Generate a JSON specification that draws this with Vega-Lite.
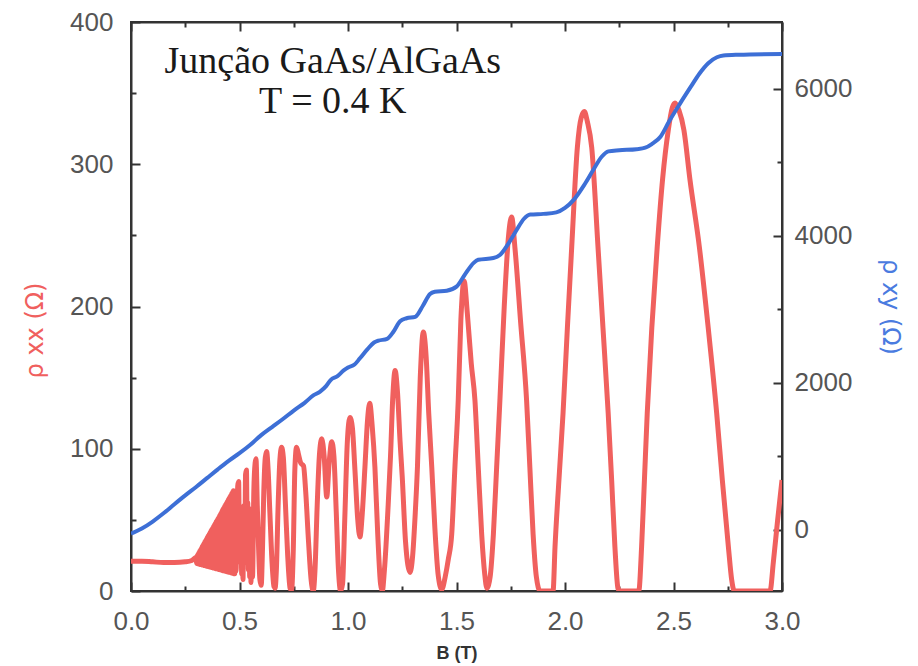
{
  "$schema": "https://vega.github.io/schema/vega-lite/v6.json",
  "width": 651,
  "height": 569,
  "autosize": {"type": "none"},
  "padding": {"left": 131, "top": 22, "right": 136, "bottom": 75},
  "background": "white",
  "config": {
    "view": {"stroke": "#333333", "strokeWidth": 2},
    "axis": {
      "grid": false,
      "domainColor": "#333333",
      "domainWidth": 2,
      "tickColor": "#333333",
      "tickWidth": 2,
      "labelFont": "Liberation Sans",
      "labelFontSize": 26,
      "labelColor": "#555555",
      "titleFont": "Liberation Sans"
    }
  },
  "datasets": {
    "rxx": [
      {"B": 0.0, "rxx": 21}, {"B": 0.05, "rxx": 21}, {"B": 0.1, "rxx": 20.5}, {"B": 0.15, "rxx": 20}, {"B": 0.2, "rxx": 20}, {"B": 0.25, "rxx": 20.5}, {"B": 0.28, "rxx": 21.5},
      {"B": 0.300, "rxx": 23.5}, {"B": 0.302, "rxx": 19.4}, {"B": 0.304, "rxx": 24.6}, {"B": 0.306, "rxx": 19.2}, {"B": 0.308, "rxx": 25.7}, {"B": 0.310, "rxx": 19.1}, {"B": 0.312, "rxx": 26.8}, {"B": 0.314, "rxx": 18.9}, {"B": 0.316, "rxx": 27.9}, {"B": 0.318, "rxx": 18.7},
      {"B": 0.320, "rxx": 29.0}, {"B": 0.322, "rxx": 18.6}, {"B": 0.324, "rxx": 30.1}, {"B": 0.326, "rxx": 18.4}, {"B": 0.328, "rxx": 31.1}, {"B": 0.330, "rxx": 18.2}, {"B": 0.332, "rxx": 32.2}, {"B": 0.334, "rxx": 18.1}, {"B": 0.336, "rxx": 33.3}, {"B": 0.338, "rxx": 17.9},
      {"B": 0.340, "rxx": 34.4}, {"B": 0.342, "rxx": 17.7}, {"B": 0.344, "rxx": 35.5}, {"B": 0.346, "rxx": 17.6}, {"B": 0.348, "rxx": 36.6}, {"B": 0.350, "rxx": 17.4}, {"B": 0.352, "rxx": 37.7}, {"B": 0.354, "rxx": 17.2}, {"B": 0.356, "rxx": 38.8}, {"B": 0.358, "rxx": 17.1},
      {"B": 0.360, "rxx": 39.9}, {"B": 0.362, "rxx": 16.9}, {"B": 0.364, "rxx": 41.0}, {"B": 0.366, "rxx": 16.7}, {"B": 0.368, "rxx": 42.1}, {"B": 0.370, "rxx": 16.6}, {"B": 0.372, "rxx": 43.2}, {"B": 0.374, "rxx": 16.4}, {"B": 0.376, "rxx": 44.2}, {"B": 0.378, "rxx": 16.2},
      {"B": 0.380, "rxx": 45.3}, {"B": 0.382, "rxx": 16.1}, {"B": 0.384, "rxx": 46.4}, {"B": 0.386, "rxx": 15.9}, {"B": 0.388, "rxx": 47.5}, {"B": 0.390, "rxx": 15.7}, {"B": 0.392, "rxx": 48.6}, {"B": 0.394, "rxx": 15.6}, {"B": 0.396, "rxx": 49.7}, {"B": 0.398, "rxx": 15.4},
      {"B": 0.400, "rxx": 50.8}, {"B": 0.402, "rxx": 15.2}, {"B": 0.404, "rxx": 51.9}, {"B": 0.406, "rxx": 15.1}, {"B": 0.408, "rxx": 53.0}, {"B": 0.410, "rxx": 14.9}, {"B": 0.412, "rxx": 54.1}, {"B": 0.414, "rxx": 14.7}, {"B": 0.416, "rxx": 55.2}, {"B": 0.418, "rxx": 14.6},
      {"B": 0.420, "rxx": 56.3}, {"B": 0.422, "rxx": 14.4}, {"B": 0.424, "rxx": 57.4}, {"B": 0.426, "rxx": 14.2}, {"B": 0.428, "rxx": 58.4}, {"B": 0.430, "rxx": 14.1}, {"B": 0.432, "rxx": 59.5}, {"B": 0.434, "rxx": 13.9}, {"B": 0.436, "rxx": 60.6}, {"B": 0.438, "rxx": 13.7},
      {"B": 0.440, "rxx": 61.7}, {"B": 0.442, "rxx": 13.6}, {"B": 0.444, "rxx": 62.8}, {"B": 0.446, "rxx": 13.4}, {"B": 0.448, "rxx": 63.9}, {"B": 0.450, "rxx": 13.2}, {"B": 0.452, "rxx": 65.0}, {"B": 0.454, "rxx": 13.1}, {"B": 0.456, "rxx": 66.1}, {"B": 0.458, "rxx": 12.9},
      {"B": 0.460, "rxx": 67.2}, {"B": 0.462, "rxx": 12.7}, {"B": 0.464, "rxx": 68.3}, {"B": 0.466, "rxx": 12.6}, {"B": 0.468, "rxx": 69.4}, {"B": 0.470, "rxx": 12.4}, {"B": 0.472, "rxx": 70.5}, {"B": 0.474, "rxx": 12.2}, {"B": 0.476, "rxx": 66}, {"B": 0.478, "rxx": 12.1},
      {"B": 0.481, "rxx": 60}, {"B": 0.484, "rxx": 14}, {"B": 0.488, "rxx": 45}, {"B": 0.492, "rxx": 74}, {"B": 0.496, "rxx": 77}, {"B": 0.5, "rxx": 30}, {"B": 0.502, "rxx": 58}, {"B": 0.504, "rxx": 20}, {"B": 0.507, "rxx": 55}, {"B": 0.51, "rxx": 12}, {"B": 0.513, "rxx": 50}, {"B": 0.516, "rxx": 8}, {"B": 0.52, "rxx": 60}, {"B": 0.524, "rxx": 20}, {"B": 0.528, "rxx": 82}, {"B": 0.532, "rxx": 85}, {"B": 0.536, "rxx": 30}, {"B": 0.538, "rxx": 62}, {"B": 0.541, "rxx": 15}, {"B": 0.544, "rxx": 58}, {"B": 0.547, "rxx": 10}, {"B": 0.55, "rxx": 50}, {"B": 0.553, "rxx": 6}, {"B": 0.556, "rxx": 45}, {"B": 0.56, "rxx": 10}, {"B": 0.566, "rxx": 70}, {"B": 0.572, "rxx": 90}, {"B": 0.576, "rxx": 93},
      {"B": 0.582, "rxx": 60}, {"B": 0.588, "rxx": 30}, {"B": 0.594, "rxx": 8}, {"B": 0.6, "rxx": 4}, {"B": 0.606, "rxx": 30}, {"B": 0.612, "rxx": 70}, {"B": 0.619, "rxx": 94}, {"B": 0.625, "rxx": 98}, {"B": 0.632, "rxx": 85}, {"B": 0.64, "rxx": 55}, {"B": 0.65, "rxx": 20}, {"B": 0.659, "rxx": 3}, {"B": 0.664, "rxx": 2}, {"B": 0.67, "rxx": 15}, {"B": 0.678, "rxx": 60}, {"B": 0.686, "rxx": 92}, {"B": 0.694, "rxx": 101}, {"B": 0.702, "rxx": 94}, {"B": 0.712, "rxx": 60}, {"B": 0.722, "rxx": 25}, {"B": 0.733, "rxx": 2}, {"B": 0.74, "rxx": 0.5}, {"B": 0.748, "rxx": 30}, {"B": 0.755, "rxx": 85}, {"B": 0.763, "rxx": 101}, {"B": 0.772, "rxx": 96}, {"B": 0.782, "rxx": 90}, {"B": 0.795, "rxx": 88}, {"B": 0.805, "rxx": 70}, {"B": 0.818, "rxx": 35}, {"B": 0.83, "rxx": 8}, {"B": 0.84, "rxx": 0}, {"B": 0.848, "rxx": 15}, {"B": 0.858, "rxx": 60}, {"B": 0.868, "rxx": 95}, {"B": 0.879, "rxx": 107}, {"B": 0.89, "rxx": 95}, {"B": 0.902, "rxx": 66}, {"B": 0.913, "rxx": 90}, {"B": 0.925, "rxx": 105}, {"B": 0.935, "rxx": 95}, {"B": 0.946, "rxx": 55}, {"B": 0.956, "rxx": 15}, {"B": 0.966, "rxx": 0}, {"B": 0.975, "rxx": 5}, {"B": 0.985, "rxx": 50}, {"B": 0.997, "rxx": 105}, {"B": 1.009, "rxx": 122}, {"B": 1.02, "rxx": 115}, {"B": 1.032, "rxx": 85}, {"B": 1.045, "rxx": 50}, {"B": 1.055, "rxx": 38}, {"B": 1.066, "rxx": 55}, {"B": 1.078, "rxx": 87}, {"B": 1.09, "rxx": 120}, {"B": 1.1, "rxx": 132}, {"B": 1.112, "rxx": 115}, {"B": 1.124, "rxx": 87}, {"B": 1.137, "rxx": 40}, {"B": 1.15, "rxx": 5}, {"B": 1.158, "rxx": 0}, {"B": 1.168, "rxx": 15}, {"B": 1.185, "rxx": 60}, {"B": 1.196, "rxx": 95}, {"B": 1.206, "rxx": 135}, {"B": 1.217, "rxx": 155}, {"B": 1.228, "rxx": 140}, {"B": 1.24, "rxx": 105}, {"B": 1.25, "rxx": 80}, {"B": 1.265, "rxx": 35}, {"B": 1.286, "rxx": 13}, {"B": 1.298, "rxx": 25}, {"B": 1.31, "rxx": 55}, {"B": 1.32, "rxx": 87}, {"B": 1.333, "rxx": 150}, {"B": 1.347, "rxx": 182}, {"B": 1.36, "rxx": 165}, {"B": 1.372, "rxx": 125}, {"B": 1.386, "rxx": 87}, {"B": 1.4, "rxx": 45}, {"B": 1.415, "rxx": 12}, {"B": 1.432, "rxx": 1}, {"B": 1.448, "rxx": 10}, {"B": 1.462, "rxx": 22}, {"B": 1.478, "rxx": 40}, {"B": 1.493, "rxx": 88}, {"B": 1.508, "rxx": 134}, {"B": 1.52, "rxx": 190}, {"B": 1.535, "rxx": 218}, {"B": 1.55, "rxx": 195}, {"B": 1.568, "rxx": 160}, {"B": 1.585, "rxx": 134}, {"B": 1.6, "rxx": 88}, {"B": 1.616, "rxx": 40}, {"B": 1.63, "rxx": 12}, {"B": 1.64, "rxx": 2}, {"B": 1.655, "rxx": 10}, {"B": 1.67, "rxx": 40}, {"B": 1.685, "rxx": 87}, {"B": 1.7, "rxx": 134}, {"B": 1.72, "rxx": 200}, {"B": 1.74, "rxx": 250}, {"B": 1.754, "rxx": 263}, {"B": 1.77, "rxx": 240}, {"B": 1.795, "rxx": 190}, {"B": 1.823, "rxx": 134}, {"B": 1.838, "rxx": 87}, {"B": 1.853, "rxx": 40}, {"B": 1.868, "rxx": 10}, {"B": 1.885, "rxx": 0}, {"B": 1.945, "rxx": 0}, {"B": 1.954, "rxx": 31}, {"B": 1.972, "rxx": 78}, {"B": 1.991, "rxx": 125}, {"B": 2.011, "rxx": 185}, {"B": 2.031, "rxx": 242}, {"B": 2.057, "rxx": 312}, {"B": 2.075, "rxx": 333}, {"B": 2.089, "rxx": 337}, {"B": 2.103, "rxx": 330}, {"B": 2.123, "rxx": 312}, {"B": 2.152, "rxx": 242}, {"B": 2.175, "rxx": 185}, {"B": 2.199, "rxx": 125}, {"B": 2.215, "rxx": 78}, {"B": 2.23, "rxx": 31}, {"B": 2.244, "rxx": 2}, {"B": 2.252, "rxx": 0}, {"B": 2.34, "rxx": 0}, {"B": 2.353, "rxx": 31}, {"B": 2.366, "rxx": 78}, {"B": 2.379, "rxx": 125}, {"B": 2.4, "rxx": 185}, {"B": 2.425, "rxx": 242}, {"B": 2.45, "rxx": 290}, {"B": 2.476, "rxx": 324}, {"B": 2.495, "rxx": 340}, {"B": 2.507, "rxx": 343}, {"B": 2.525, "rxx": 338}, {"B": 2.548, "rxx": 324}, {"B": 2.576, "rxx": 289}, {"B": 2.619, "rxx": 242}, {"B": 2.66, "rxx": 185}, {"B": 2.699, "rxx": 125}, {"B": 2.725, "rxx": 78}, {"B": 2.753, "rxx": 31}, {"B": 2.768, "rxx": 8}, {"B": 2.78, "rxx": 0}, {"B": 2.945, "rxx": 0}, {"B": 2.96, "rxx": 20}, {"B": 2.98, "rxx": 50}, {"B": 3.0, "rxx": 78}
    ],
    "rxy": [
      {"B": 0.0, "rxy": -50}, {"B": 0.05, "rxy": 20}, {"B": 0.1, "rxy": 115}, {"B": 0.15, "rxy": 227}, {"B": 0.2, "rxy": 350}, {"B": 0.25, "rxy": 470}, {"B": 0.3, "rxy": 585}, {"B": 0.35, "rxy": 705}, {"B": 0.4, "rxy": 825}, {"B": 0.45, "rxy": 940}, {"B": 0.5, "rxy": 1045}, {"B": 0.55, "rxy": 1160}, {"B": 0.6, "rxy": 1290}, {"B": 0.65, "rxy": 1400}, {"B": 0.7, "rxy": 1510}, {"B": 0.75, "rxy": 1625}, {"B": 0.8, "rxy": 1730}, {"B": 0.84, "rxy": 1830}, {"B": 0.87, "rxy": 1880}, {"B": 0.9, "rxy": 1960}, {"B": 0.92, "rxy": 2040}, {"B": 0.95, "rxy": 2090}, {"B": 0.98, "rxy": 2170}, {"B": 1.0, "rxy": 2210}, {"B": 1.03, "rxy": 2250}, {"B": 1.055, "rxy": 2335}, {"B": 1.09, "rxy": 2460}, {"B": 1.12, "rxy": 2550}, {"B": 1.14, "rxy": 2575}, {"B": 1.18, "rxy": 2600}, {"B": 1.21, "rxy": 2700}, {"B": 1.24, "rxy": 2840}, {"B": 1.27, "rxy": 2880}, {"B": 1.31, "rxy": 2900}, {"B": 1.345, "rxy": 3050}, {"B": 1.378, "rxy": 3210}, {"B": 1.4, "rxy": 3240}, {"B": 1.455, "rxy": 3255}, {"B": 1.5, "rxy": 3310}, {"B": 1.54, "rxy": 3480}, {"B": 1.578, "rxy": 3630}, {"B": 1.6, "rxy": 3675}, {"B": 1.67, "rxy": 3700}, {"B": 1.7, "rxy": 3740}, {"B": 1.74, "rxy": 3900}, {"B": 1.777, "rxy": 4080}, {"B": 1.81, "rxy": 4230}, {"B": 1.84, "rxy": 4290}, {"B": 1.9, "rxy": 4300}, {"B": 1.96, "rxy": 4320}, {"B": 2.0, "rxy": 4380}, {"B": 2.04, "rxy": 4490}, {"B": 2.09, "rxy": 4700}, {"B": 2.13, "rxy": 4896}, {"B": 2.17, "rxy": 5080}, {"B": 2.2, "rxy": 5150}, {"B": 2.25, "rxy": 5165}, {"B": 2.33, "rxy": 5180}, {"B": 2.37, "rxy": 5200}, {"B": 2.4, "rxy": 5250}, {"B": 2.44, "rxy": 5350}, {"B": 2.48, "rxy": 5560}, {"B": 2.53, "rxy": 5800}, {"B": 2.58, "rxy": 6030}, {"B": 2.62, "rxy": 6210}, {"B": 2.66, "rxy": 6350}, {"B": 2.7, "rxy": 6430}, {"B": 2.73, "rxy": 6455}, {"B": 2.8, "rxy": 6465}, {"B": 3.0, "rxy": 6475}
    ]
  },
  "layer": [
    {
      "layer": [
        {
          "data": {"name": "rxx"},
          "mark": {"type": "line", "color": "#f0605e", "strokeWidth": 5, "interpolate": "monotone", "clip": true},
          "encoding": {
            "x": {
              "field": "B", "type": "quantitative",
              "scale": {"domain": [0, 3], "nice": false, "zero": false},
              "axis": {
                "orient": "bottom",
                "values": [0, 0.25, 0.5, 0.75, 1, 1.25, 1.5, 1.75, 2, 2.25, 2.5, 2.75, 3],
                "labelExpr": "datum.value % 0.5 === 0 ? format(datum.value, '.1f') : ''",
                "tickSize": {"condition": {"test": "datum.value % 0.5 === 0", "value": -9}, "value": -5},
                "labelPadding": 26,
                "labelFlush": false,
                "labelOverlap": false,
                "title": "B (T)",
                "titleFontWeight": "bold",
                "titleFontSize": 18,
                "titleColor": "#333333",
                "titlePadding": 6
              }
            },
            "y": {
              "field": "rxx", "type": "quantitative",
              "scale": {"domain": [0, 400], "nice": false},
              "axis": {
                "orient": "left",
                "values": [0, 50, 100, 150, 200, 250, 300, 350, 400],
                "labelExpr": "datum.value % 100 === 0 ? datum.label : ''",
                "tickSize": {"condition": {"test": "datum.value % 100 === 0", "value": -9}, "value": -5},
                "labelPadding": 27,
                "labelFlush": false,
                "labelOverlap": false,
                "title": "ρ xx  (Ω)",
                "titleColor": "#f0605e",
                "titleFontSize": 24,
                "titleFontWeight": "normal",
                "titleFont": "DejaVu Sans",
                "titlePadding": 22,
                "titleY": 308
              }
            }
          }
        },
        {
          "data": {"values": [{}]},
          "mark": {"type": "text", "font": "Liberation Serif", "fontSize": 38, "color": "#1a1a1a", "align": "center", "baseline": "alphabetic", "lineHeight": 40},
          "encoding": {
            "x": {"datum": 0.93, "type": "quantitative"},
            "y": {"datum": 364, "type": "quantitative"},
            "text": {"value": ["Junção GaAs/AlGaAs", "T = 0.4 K"]}
          }
        }
      ]
    },
    {
      "data": {"name": "rxy"},
      "mark": {"type": "line", "color": "#3d6fd6", "strokeWidth": 4, "interpolate": "monotone", "clip": true},
      "encoding": {
        "x": {
          "field": "B", "type": "quantitative",
          "scale": {"domain": [0, 3], "nice": false, "zero": false},
          "axis": {
            "orient": "top",
            "values": [0, 0.25, 0.5, 0.75, 1, 1.25, 1.5, 1.75, 2, 2.25, 2.5, 2.75, 3],
            "labels": false,
            "tickSize": {"condition": {"test": "datum.value % 0.5 === 0", "value": -9}, "value": -5},
            "title": null
          }
        },
        "y": {
          "field": "rxy", "type": "quantitative",
          "scale": {"domain": [-830, 6910], "nice": false, "zero": false},
          "axis": {
            "orient": "right",
            "values": [0, 1000, 2000, 3000, 4000, 5000, 6000],
            "labelExpr": "datum.value % 2000 === 0 ? format(datum.value, 'd') : ''",
            "tickSize": {"condition": {"test": "datum.value % 2000 === 0", "value": -9}, "value": -5},
            "labelPadding": 21,
            "labelFlush": false,
            "labelOverlap": false,
            "title": "ρ xy  (Ω)",
            "titleColor": "#4a7be0",
            "titleFontSize": 24,
            "titleFontWeight": "normal",
            "titleFont": "DejaVu Sans",
            "titlePadding": 26
          }
        }
      }
    }
  ],
  "resolve": {"scale": {"y": "independent"}, "axis": {"x": "independent", "y": "independent"}}
}
